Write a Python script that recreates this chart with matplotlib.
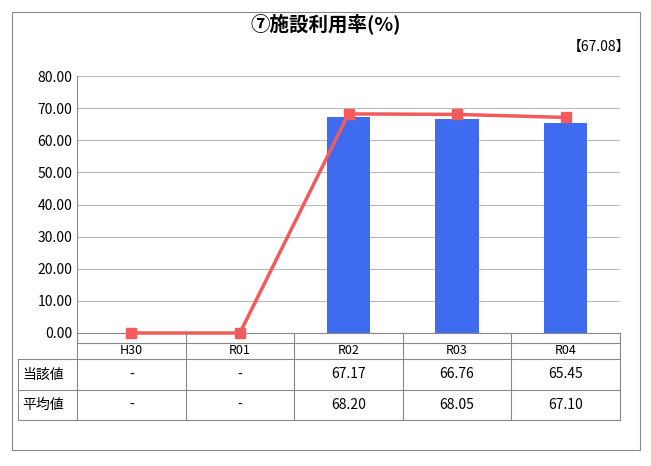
import matplotlib.pyplot as plt
from matplotlib.patches import Rectangle

plt.rcParams["font.family"] = "Noto Sans CJK JP"

years = ["H30", "R01", "R02", "R03", "R04"]
own_values = [0, 0, 67.17, 66.76, 65.45]
avg_values = [0, 0, 68.20, 68.05, 67.10]
own_labels = ["-", "-", "67.17", "66.76", "65.45"]
avg_labels = ["-", "-", "68.20", "68.05", "67.10"]
row_names = ["当該値", "平均値"]

W, H = 651, 466
fig = plt.figure(figsize=(6.51, 4.66), dpi=100)
fig.add_artist(Rectangle((12 / W, 1 - 450 / H), 628 / W, 438 / H, transform=fig.transFigure,
                         fill=False, edgecolor="#888888", linewidth=0.8))

x0, x1, ytop, ybot = 77, 620, 76, 333
ax = fig.add_axes([x0 / W, 1 - ybot / H, (x1 - x0) / W, (ybot - ytop) / H])
xs = range(len(years))
ax.bar(xs, own_values, width=0.4, color="#3F6BF0", zorder=2)
ax.plot(xs, avg_values, color="#F25B5B", linewidth=2.5, marker="s", markersize=7,
        zorder=3, clip_on=False)
ax.set_xlim(-0.5, len(years) - 0.5)
ax.set_ylim(0, 80)
ax.set_yticks(range(0, 81, 10))
ax.set_yticklabels([f"{v:.2f}" for v in range(0, 81, 10)], fontsize=10)
ax.set_xticks([])
ax.grid(axis="y", color="#bbbbbb", linewidth=0.8, zorder=0)
ax.tick_params(axis="y", length=0)
for s in ["top", "right"]:
    ax.spines[s].set_visible(False)
ax.spines["left"].set_color("#888888")
ax.spines["bottom"].set_color("#888888")

fig.text(0.5, 1 - 24 / H, "⑦施設利用率(%)", ha="center", va="center", fontsize=14, fontweight="bold")
fig.text(630 / W, 1 - 47 / H, "【67.08】", ha="right", va="center", fontsize=10)

# data table
tl, rows_y = 18, [343, 359, 390, 420]
band = (x1 - x0) / len(years)
def fy(y):
    return 1 - y / H
for y in rows_y:
    fig.add_artist(plt.Line2D([(tl if y != 343 else x0) / W, x1 / W], [fy(y), fy(y)],
                              color="#888888", linewidth=0.8))
fig.add_artist(plt.Line2D([tl / W, tl / W], [fy(359), fy(420)], color="#888888", linewidth=0.8))
for i in range(len(years) + 1):
    x = x0 + i * band
    fig.add_artist(plt.Line2D([x / W, x / W], [fy(333), fy(420)], color="#888888", linewidth=0.8))
for i, yr in enumerate(years):
    cx = (x0 + (i + 0.5) * band) / W
    fig.text(cx, fy(351), yr, ha="center", va="center", fontsize=9)
    fig.text(cx, fy(374.5), own_labels[i], ha="center", va="center", fontsize=10)
    fig.text(cx, fy(405), avg_labels[i], ha="center", va="center", fontsize=10)
for name, y in zip(row_names, [374.5, 405]):
    fig.text(22 / W, fy(y), name, ha="left", va="center", fontsize=10)

fig.savefig("out.png", dpi=100)
